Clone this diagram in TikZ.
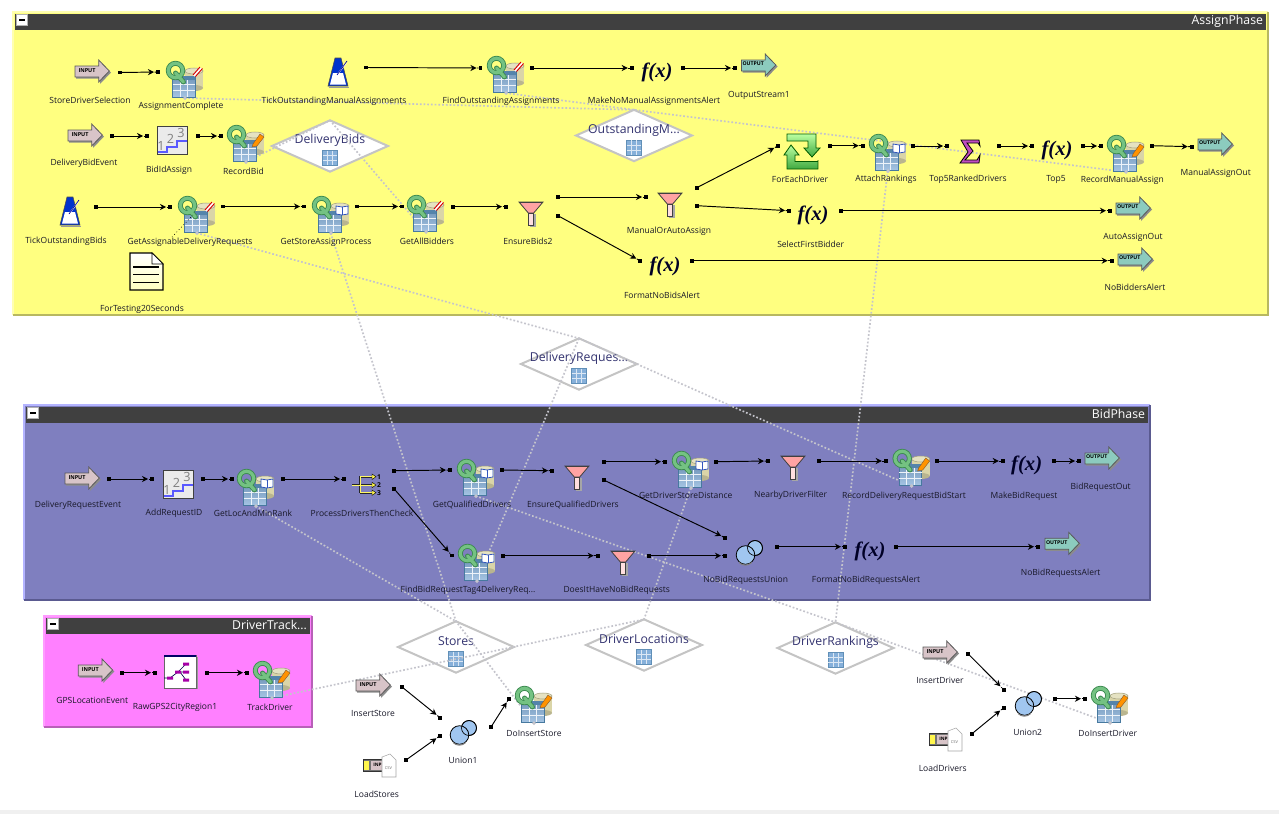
\documentclass[tikz,border=0pt]{standalone}
\usepackage{fontspec}
\setmainfont{Open Sans}
\newfontfamily\fxfont{Liberation Serif}
\usetikzlibrary{arrows.meta,shapes.geometric,calc}
\pgfdeclarelayer{grp}\pgfdeclarelayer{dia}\pgfdeclarelayer{lnk}
\pgfsetlayers{grp,dia,lnk,main}
\definecolor{yel}{HTML}{FFFF80}\definecolor{yelL}{HTML}{FFFFB0}\definecolor{yelD}{HTML}{B8B860}
\definecolor{pur}{HTML}{7F7FBF}\definecolor{purL}{HTML}{B4B4FF}\definecolor{purD}{HTML}{5A5A90}
\definecolor{mag}{HTML}{FF80FF}\definecolor{magL}{HTML}{FF9CFF}\definecolor{magD}{HTML}{B860B8}
\definecolor{bar}{HTML}{404040}\definecolor{lnkc}{HTML}{C4C4CC}\definecolor{diac}{HTML}{C4C4C4}
\definecolor{lblc}{HTML}{181828}\definecolor{qg}{HTML}{74C282}\definecolor{qd}{HTML}{3C8A50}
\definecolor{tb}{HTML}{86B0DA}\definecolor{tbd}{HTML}{47799F}\definecolor{cyl}{HTML}{DAD5A8}
\definecolor{inc}{HTML}{D8C4C8}\definecolor{outc}{HTML}{8CCBBE}\definecolor{unic}{HTML}{A0C6F0}
\newcommand{\qicon}[1]{%
  \fill[cyl] (19,11) rectangle (37,28);
  \fill[cyl!85!black] (28,28) ellipse [x radius=9,y radius=3];
  \draw[cyl!75!black,fill=cyl!70!white,line width=.4pt] (28,11) ellipse [x radius=9,y radius=3];
  \draw[tbd,top color=tb!85!black,bottom color=tb!75!white,line width=.6pt] (6.5,16) rectangle (29,37);
  \fill[tbd!80!tb] (6.5,16) rectangle (29,20);
  \draw[white!85!tb,line width=.45pt] (6.5,24.5) -- (29,24.5) (6.5,30) -- (29,30) (14,20) -- (14,37) (21.5,20) -- (21.5,37);
  #1
  \draw[qd,line width=3.7pt] (9.5,10.5) circle [radius=7.2];
  \draw[qd,line width=3.7pt,line cap=round] (9.5,13) -- (17.5,22);
  \draw[qg,line width=2.4pt] (9.5,10.5) circle [radius=7.2];
  \draw[qg,line width=2.4pt,line cap=round] (9.5,13) -- (17.5,22);
  \fill[lnkc] (19,36) -- (21,38) -- (19,40) -- (17,38) -- cycle;
}
\tikzset{
  flat/.style={inner sep=0pt,outer sep=0pt},
  lbl/.style={flat,text=lblc,font=\fontsize{6.38}{7.5}\selectfont},
  port/.style={flat,rectangle,fill=black,minimum size=2.7pt},
  lnkline/.style={lnkc,line width=1.25pt,dash pattern=on 1.3pt off 1.5pt},
  diamondshape/.style={flat,diamond,draw=diac,fill=white,line width=1.5pt,minimum width=87pt,minimum height=38.5pt},
  dtitle/.style={flat,text=black!70!blue!80!white,font=\fontsize{9.2}{11}\selectfont},
  gtitle/.style={flat,text=white,font=\fontsize{9.2}{11}\selectfont,anchor=east},
  qdel box/.style={minimum width=28pt,minimum height=28.5pt},
  qpen box/.style={minimum width=28pt,minimum height=28.5pt},
  qbook box/.style={minimum width=28pt,minimum height=28.5pt},
  inarrow box/.style={minimum width=26pt,minimum height=17pt},
  outarrow box/.style={minimum width=26pt,minimum height=17pt},
  metro box/.style={minimum width=15pt,minimum height=22pt},
  fxs box/.style={minimum width=21pt,minimum height=20pt},
  funnel box/.style={minimum width=18pt,minimum height=18pt},
  numb box/.style={minimum width=22.5pt,minimum height=21pt},
  docu box/.style={minimum width=25pt,minimum height=28pt},
  loopd box/.style={minimum width=27pt,minimum height=28pt},
  sigm box/.style={minimum width=15pt,minimum height=17pt},
  splitt box/.style={minimum width=22pt,minimum height=17pt},
  unio box/.style={minimum width=20pt,minimum height=19pt},
  csvin box/.style={minimum width=24pt,minimum height=17pt},
  rawg box/.style={minimum width=24pt,minimum height=25pt},
  pics/qdel/.style={code={\qicon{\draw[white,line width=1.6pt] (28,16) -- (35,8);\draw[red!85!black,line width=.7pt] (27,15) -- (34,7) (29.5,16.5) -- (36.5,8.5);}}},
  pics/qpen/.style={code={\qicon{\fill[orange!85!yellow] (26,20) -- (33,10) -- (37,13) -- (30,22) -- (25,23) -- cycle;\draw[brown!70!black,line width=.3pt] (26,20) -- (33,10) -- (37,13) -- (30,22) -- (25,23) -- cycle;}}},
  pics/qbook/.style={code={\qicon{\draw[tbd!70!blue,fill=white,line width=.6pt] (24,11) -- (30,12) -- (36,11) -- (36,19) -- (30,20) -- (24,19) -- cycle;\draw[tbd!70!blue,line width=.5pt] (30,12) -- (30,20);}}},
  pics/inarrow/.style={code={
    \fill[black!45] (1,7.5) -- (25,7.5) -- (25,1.5) -- (36,12.5) -- (25,24) -- (25,18.5) -- (1,18.5) -- cycle;
    \draw[black!65,fill=inc,line width=.6pt] (0,6) -- (23.7,6) -- (23.7,0) -- (34.3,11) -- (23.7,22) -- (23.7,17) -- (0,17) -- cycle;
    \node[flat,font=\fontsize{4.1}{4}\bfseries\selectfont,text=black] at (12,10.5) {INPUT};}},
  pics/outarrow/.style={code={
    \fill[black!45] (1,7.5) -- (25,7.5) -- (25,1.5) -- (36,12.5) -- (25,24) -- (25,18.5) -- (1,18.5) -- cycle;
    \draw[black!65,fill=outc,line width=.6pt] (0,6) -- (23.7,6) -- (23.7,0) -- (34.3,11) -- (23.7,22) -- (23.7,17) -- (0,17) -- cycle;
    \node[flat,font=\fontsize{3.9}{4}\bfseries\selectfont,text=black] at (11.7,10) {OUTPUT};}},
  pics/metro/.style={code={
    \draw[black!70,fill=blue!75!cyan!80!black,line width=.4pt] (7,0) -- (13,0) -- (20,28) -- (0,28) -- cycle;
    \fill[white] (5,15) -- (15,15) -- (18,26.5) -- (2,26.5) -- cycle;
    \draw[white,line width=.9pt] (9,17) -- (18,5);
    \draw[blue!60!black,line width=.5pt] (9,17) -- (19,3);
    \fill[black!40] (1,28.5) rectangle (21,30);}},
  pics/fxs/.style={code={\node[flat,font=\fxfont\fontsize{15.5}{17}\bfseries\itshape\selectfont,text=black!85!blue] at (14,12) {f(x)};}},
  pics/funnel/.style={code={
    \fill[black!35] (10.5,13) rectangle (16.5,25.5);
    \draw[black!75,fill=pink!85!red,line width=.6pt] (0,1) -- (24,1) -- (14.7,12) -- (9.3,12) -- cycle;
    \draw[black!75,fill=pink!50!white,line width=.6pt] (9.3,12) rectangle (14.7,24);
    \draw[black!75,line width=.3pt] (0,1) -- (24,1);}},
  pics/numb/.style={code={
    \draw[black!75,fill=black!8,line width=.7pt] (0,0) rectangle (30,28);
    \node[flat,text=black!50,font=\fontsize{9.5}{10}\selectfont] at (4,20) {1};
    \node[flat,text=black!50,font=\fontsize{9.5}{10}\selectfont] at (13.5,13) {2};
    \node[flat,text=black!50,font=\fontsize{9.5}{10}\selectfont] at (24,7) {3};
    \draw[blue!65!white,line width=.9pt] (0.5,26) -- (10,26) -- (10,21) -- (20,21) -- (20,15) -- (29.5,15);}},
  pics/docu/.style={code={
    \draw[black,top color=white,bottom color=yellow!25!white,line width=.8pt] (0,0) -- (22,0) -- (33,11) -- (33,37) -- (0,37) -- cycle;
    \draw[black,fill=white,line width=.5pt] (22,0) -- (22,11) -- (33,11) -- cycle;
    \draw[black,line width=1pt] (3,14) -- (29,14) (3,21.5) -- (29,21.5) (3,29.5) -- (29,29.5);}},
  pics/loopd/.style={code={
    \draw[green!35!black,top color=green!30!white!90!yellow,bottom color=green!55!black!75!white,line width=.6pt] (3,1) -- (32,1) -- (32,15) -- (36,15) -- (28,24) -- (20,15) -- (24,15) -- (24,8) -- (3,8) -- cycle;
    \draw[green!35!black,top color=green!30!white!90!yellow,bottom color=green!55!black!75!white,line width=.6pt] (34,27) -- (34,36) -- (3,36) -- (3,22) -- (0,22) -- (7,12) -- (15,22) -- (11,22) -- (11,28.5) -- (34,28.5) -- cycle;}},
  pics/sigm/.style={code={
    \draw[black,fill=violet!70!magenta!70!white,line width=.6pt] (1,0) -- (19,0) -- (20,6) -- (18,3) -- (7,3) -- (13,11) -- (5,20) -- (17,20) -- (20,15) -- (19,23) -- (0,23) -- (8,12) -- cycle;}},
  pics/splitt/.style={code={
    \draw[black!85,line width=1.6pt] (0,10) -- (9,10) (8,1.7) -- (21,1.7) (8,10) -- (21,10) (8,17.7) -- (21,17.7) (8,1) -- (8,18.4);
    \draw[yellow!60!white,line width=.6pt] (0,10) -- (21,10) (8,1.7) -- (21,1.7) (8,17.7) -- (21,17.7) (8,1.7) -- (8,17.7);
    \fill[yellow!70!white,draw=black,line width=.3pt] (20,-1) -- (24,1.7) -- (20,4.5) -- cycle (20,7.3) -- (24,10) -- (20,12.7) -- cycle (20,15) -- (24,17.7) -- (20,20.4) -- cycle;
    \node[flat,font=\fontsize{5}{5}\bfseries\selectfont,text=black] at (27,2) {1};
    \node[flat,font=\fontsize{5}{5}\bfseries\selectfont,text=black] at (27,10) {2};
    \node[flat,font=\fontsize{5}{5}\bfseries\selectfont,text=black] at (27,18) {3};}},
  pics/unio/.style={code={
    \draw[black,fill=unic,line width=.6pt] (19,8) circle [radius=7.5];
    \draw[black,fill=unic,line width=.6pt] (9.5,15) circle [radius=9.3];
    \draw[black,line width=.5pt] (19,8) circle [radius=7.5];
    \draw[black!50,line width=.8pt] (3,22.5) arc [start angle=135,end angle=45,radius=9];}},
  pics/csvin/.style={code={
    \draw[black!80,fill=black!55,line width=.5pt] (0,5) -- (26,5) -- (26,17) -- (0,17) -- cycle;
    \fill[yellow!70!white] (1,6.5) rectangle (6,15.5);
    \fill[inc] (8,6.5) rectangle (22,15.5);
    \node[flat,font=\fontsize{3.5}{4}\bfseries\selectfont,text=black] at (14.5,11) {INP};
    \draw[black!35,fill=white,line width=.4pt] (19,3) -- (27,0) -- (33,6) -- (33,23) -- (19,23) -- cycle;
    \node[flat,font=\fontsize{3}{3}\selectfont,text=black!60] at (25.5,14) {CSV};}},
  pics/rawg/.style={code={
    \fill[black!40] (1.5,1.5) rectangle (33.5,34);
    \draw[black!60,fill=white,line width=.6pt] (0,0) rectangle (32,33);
    \fill[blue!40!black] (0,0) rectangle (32,2.2);
    \draw[blue!30!black,line width=.5pt] (0,23) -- (6,23) -- (14,17) -- (22,9) (14,17) -- (22,17) (16,17) -- (22,25);
    \fill[violet!70!magenta] (3,21.5) rectangle (9,24.5) (11,15.5) rectangle (17,18.5) (19,7.5) rectangle (25,10.5) (19,15.5) rectangle (25,18.5) (19,23.5) rectangle (25,26.5);}},
}
% component: name, type, x, y (top left), label, label x, label y
\newcommand{\comp}[7]{%
  \node[flat,#2 box,anchor=north west] (#1) at (#3,#4) {};
  \pic at (#3,#4) {#2};
  \node[lbl] (#1-l) at (#6,#7) {#5};}
% ports and flow
\newcommand{\fl}[6]{%
  \node[port] (#1) at (#2,#3) {};
  \node[port] (#4) at (#5,#6) {};
  \draw[black,line width=.72pt,-{Stealth[length=4.6pt,width=4.6pt]},shorten >=1.6pt] (#1) -- (#4);
  \draw[black,line width=.72pt] ($(#4)!2.6pt!(#1)$) -- (#4);}
\newcommand{\lk}[2]{\begin{pgfonlayer}{lnk}\draw[lnkline] (#1) -- (#2);\end{pgfonlayer}}
% table store diamond: name, cx, cy, title
\newcommand{\dm}[4]{%
  \begin{pgfonlayer}{dia}
  \node[diamondshape] (#1) at (#2,#3) {};
  \node[dtitle] (#1-t) at (#2,#3-5.5) {#4};
  \node[flat,rectangle,draw=tbd!60!tb,fill=tb,minimum size=11pt,line width=.3pt] (#1-i) at (#2,#3+12) {};
  \draw[white!70!tb,line width=.35pt] ([yshift=-3.5pt]#1-i.north west) -- ([yshift=-3.5pt]#1-i.north east) ([yshift=3.5pt]#1-i.south west) -- ([yshift=3.5pt]#1-i.south east) ([xshift=-2pt]#1-i.north) -- ([xshift=-2pt]#1-i.south) ([xshift=2pt]#1-i.north) -- ([xshift=2pt]#1-i.south);
  \end{pgfonlayer}}
% group: name x1 y1 x2 y2 fill light dark title
\newcommand{\grpbox}[9]{%
  \begin{pgfonlayer}{grp}
  \node[flat,rectangle,fill=#6,anchor=north west,minimum width={(#4-#2)*0.75pt},minimum height={(#5-#3)*0.75pt}] (#1) at (#2,#3) {};
  \draw[#7,line width=1.3pt] (#1.south west) -- (#1.north west) -- (#1.north east);
  \draw[#8,line width=1.5pt] (#1.north east) -- (#1.south east) -- (#1.south west);
  \fill[bar] (#2+2,#3+1.5) rectangle (#4-2,#3+17.5);
  \node[flat,rectangle,draw=black!30,fill=white,minimum size=8pt,line width=.4pt,anchor=north west] (#1-b) at (#2+3.5,#3+2.5) {};
  \fill[black] ([xshift=-2.5pt,yshift=-.6pt]#1-b.center) rectangle ([xshift=2.5pt,yshift=.6pt]#1-b.center);
  \node[gtitle] (#1-t) at (#4-5,#3+9) {#9};
  \end{pgfonlayer}}
\begin{document}
\begin{tikzpicture}[x=0.75pt,y=-0.75pt]
\useasboundingbox (0,0) rectangle (1279,814);
\begin{pgfonlayer}{grp}
\fill[white] (0,0) rectangle (1279,814);
\fill[black!6] (0,810) rectangle (1279,814);
\end{pgfonlayer}
\grpbox{AP}{13}{12}{1268}{315}{yel}{yelL}{yelD}{AssignPhase}
\grpbox{BP}{24}{405}{1150}{600}{pur}{purL}{purD}{BidPhase}
\grpbox{DT}{44}{616}{312}{727}{mag}{magL}{magD}{DriverTrack...}
% diamonds
\dm{DBd}{330}{146}{DeliveryBids}
\dm{OM}{634}{135.5}{OutstandingM...}
\dm{DR}{579}{364}{DeliveryReques...}
\dm{ST}{456}{647}{Stores}
\dm{DL}{644}{645}{DriverLocations}
\dm{DK}{835.5}{648}{DriverRankings}
% AssignPhase
\comp{SDS}{inarrow}{75}{60}{StoreDriverSelection}{90}{100}
\comp{AC}{qdel}{166}{60}{AssignmentComplete}{181}{106.5}
\comp{TOMA}{metro}{328}{58}{TickOutstandingManualAssignments}{334}{101.5}
\comp{FOA}{qdel}{487}{55}{FindOutstandingAssignments}{501}{101.7}
\comp{MNMA}{fxs}{643}{60}{MakeNoManualAssignmentsAlert}{654}{101.7}
\comp{OS1}{outarrow}{741.5}{54}{OutputStream1}{759}{95}
\comp{DBE}{inarrow}{68}{124}{DeliveryBidEvent}{84}{163}
\comp{BIA}{numb}{157}{126}{BidIdAssign}{169}{170}
\comp{RB}{qpen}{227}{124}{RecordBid}{243.5}{171}
\comp{TOB}{metro}{60}{197}{TickOutstandingBids}{66}{241}
\comp{GADR}{qdel}{178}{195}{GetAssignableDeliveryRequests}{190}{242}
\comp{GSAP}{qbook}{312}{195}{GetStoreAssignProcess}{326}{242}
\comp{GAB}{qdel}{407}{194}{GetAllBidders}{427}{241}
\comp{FT}{docu}{130}{253}{ForTesting20Seconds}{142}{309}
\comp{EB2}{funnel}{519}{201}{EnsureBids2}{528}{241}
\comp{MOA}{funnel}{658}{192}{ManualOrAutoAssign}{669}{231.7}
\comp{FED}{loopd}{784}{133}{ForEachDriver}{800}{179.5}
\comp{AR}{qbook}{869}{133}{AttachRankings}{886}{179.7}
\comp{T5R}{sigm}{960}{140}{Top5RankedDrivers}{968}{179.7}
\comp{T5}{fxs}{1043}{138}{Top5}{1056}{179.7}
\comp{RMA}{qpen}{1107}{134}{RecordManualAssign}{1122.3}{180.7}
\comp{MAO}{outarrow}{1198}{133}{ManualAssignOut}{1215.7}{173.7}
\comp{SFB}{fxs}{799}{203}{SelectFirstBidder}{810.7}{244.3}
\comp{AAO}{outarrow}{1116}{197}{AutoAssignOut}{1133}{237.7}
\comp{FNBA}{fxs}{651}{254}{FormatNoBidsAlert}{662}{295}
\comp{NBA}{outarrow}{1118}{248}{NoBiddersAlert}{1135}{287.7}
% BidPhase
\comp{DRE}{inarrow}{65}{467}{DeliveryRequestEvent}{78}{505.7}
\comp{ARI}{numb}{163}{470}{AddRequestID}{174}{513.7}
\comp{GLMR}{qbook}{237}{468}{GetLocAndMinRank}{253}{513.7}
\comp{PDTC}{splitt}{352}{475}{ProcessDriversThenCheck}{362}{513.7}
\comp{GQD}{qbook}{457}{458}{GetQualifiedDrivers}{472}{504.7}
\comp{EQD}{funnel}{565}{465}{EnsureQualifiedDrivers}{573}{505}
\comp{GDSD}{qbook}{672}{450}{GetDriverStoreDistance}{685.7}{495.7}
\comp{NDF}{funnel}{781}{455}{NearbyDriverFilter}{790.7}{495.7}
\comp{RDRB}{qpen}{892.7}{448}{RecordDeliveryRequestBidStart}{904}{496}
\comp{MBR}{fxs}{1012.7}{453.7}{MakeBidRequest}{1024}{496}
\comp{BRO}{outarrow}{1085}{447}{BidRequestOut}{1100.7}{487.7}
\comp{FBR}{qbook}{458}{543}{FindBidRequestTag4DeliveryReq...}{468}{590}
\comp{DHNB}{funnel}{611}{550}{DoesItHaveNoBidRequests}{616.7}{590.7}
\comp{NBRU}{unio}{736}{540}{NoBidRequestsUnion}{745.7}{580.7}
\comp{FNBR}{fxs}{856}{539.7}{FormatNoBidRequestsAlert}{866}{580.7}
\comp{NBRA}{outarrow}{1045}{532.3}{NoBidRequestsAlert}{1060.7}{573.7}
% DriverTrack and bottom
\comp{GPS}{inarrow}{78.3}{659}{GPSLocationEvent}{92.3}{700}
\comp{RAW}{rawg}{164}{655}{RawGPS2CityRegion1}{175}{707.7}
\comp{TD}{qpen}{253}{660}{TrackDriver}{270}{707.7}
\comp{IS}{inarrow}{356}{674}{InsertStore}{373}{713.7}
\comp{LS}{csvin}{363}{754}{LoadStores}{376.7}{794.7}
\comp{U1}{unio}{450}{720}{Union1}{463}{760.7}
\comp{DIS}{qpen}{515}{685}{DoInsertStore}{534}{733.7}
\comp{ID}{inarrow}{923}{641}{InsertDriver}{940}{680.7}
\comp{LD}{csvin}{929}{728}{LoadDrivers}{942.7}{768.7}
\comp{U2}{unio}{1015}{691}{Union2}{1027.7}{732.7}
\comp{DID}{qpen}{1091}{685}{DoInsertDriver}{1107.7}{733.7}
% flows
\fl{SDS-o}{120}{72.5}{AC-i}{158}{72}
\fl{TOMA-o}{366}{67.5}{FOA-i}{480.5}{68}
\fl{FOA-o}{532}{68}{MNMA-i}{631.7}{68}
\fl{MNMA-o}{683}{68}{OS1-i}{735}{68}
\fl{DBE-o}{112}{136}{BIA-i}{147}{136}
\fl{BIA-o}{198}{136}{RB-i}{221}{136}
\fl{TOB-o}{96}{207}{GADR-i}{170}{207}
\fl{GADR-o}{223}{206.5}{GSAP-i}{304}{206.5}
\fl{GSAP-o}{357}{206.5}{GAB-i}{402}{206.5}
\fl{GAB-o}{453}{206.7}{EB2-i}{506}{206.7}
\fl{EB2-o1}{558}{197}{MOA-i}{646}{197}
\fl{EB2-o2}{558}{215.7}{FNBA-i}{640}{260.7}
\fl{MOA-o1}{696.7}{187.7}{FED-i}{778}{146}
\fl{MOA-o2}{697}{205.7}{SFB-i}{789}{210.7}
\fl{FED-o}{830}{145.7}{AR-i}{862.7}{145.7}
\fl{AR-o}{913}{146}{T5R-i}{947}{146}
\fl{T5R-o}{999}{146}{T5-i}{1032}{146}
\fl{T5-o}{1083}{146}{RMA-i}{1101}{146}
\fl{RMA-o}{1152}{145.7}{MAO-i}{1191.7}{146.7}
\fl{SFB-o}{841}{210.7}{AAO-i}{1110}{210.7}
\fl{FNBA-o}{692}{260.7}{NBA-i}{1111.7}{260.7}
\fl{DRE-o}{109}{479}{ARI-i}{152}{479}
\fl{ARI-o}{203}{479}{GLMR-i}{232}{479}
\fl{GLMR-o}{283}{479}{PDTC-i}{344}{479}
\fl{PDTC-o1}{394}{470.7}{GQD-i}{450}{470}
\fl{PDTC-o2}{394}{488.7}{FBR-i}{451.7}{555.3}
\fl{GQD-o}{502}{470}{EQD-i}{552}{470.7}
\fl{EQD-o1}{603.7}{461.7}{GDSD-i}{665}{461.7}
\fl{EQD-o2}{603.7}{480}{NBRU-i1}{725}{537.7}
\fl{GDSD-o}{716}{461.7}{NDF-i}{768}{461}
\fl{NDF-o}{819}{461}{RDRB-i}{885.7}{461}
\fl{RDRB-o}{936.7}{461}{MBR-i}{1002.7}{461}
\fl{MBR-o}{1054}{461}{BRO-i}{1079}{461}
\fl{FBR-o}{502.7}{555.7}{DHNB-i}{597.7}{555.7}
\fl{DHNB-o}{649}{555.7}{NBRU-i2}{725}{555.7}
\fl{NBRU-o}{776.7}{546.7}{FNBR-i}{845}{546.7}
\fl{FNBR-o}{896}{546.7}{NBRA-i}{1038}{546.7}
\fl{GPS-o}{122}{672.7}{RAW-i}{155}{672.7}
\fl{RAW-o}{207}{672.7}{TD-i}{247}{672.7}
\fl{IS-o}{402}{687}{U1-i1}{440}{717.7}
\fl{LS-o}{406}{760}{U1-i2}{440}{735.7}
\fl{U1-o}{491}{727}{DIS-i}{509}{698.7}
\fl{ID-o}{968}{653.7}{U2-i1}{1003.7}{689.7}
\fl{LD-o}{972}{733.7}{U2-i2}{1003.7}{707.7}
\fl{U2-o}{1055}{698.7}{DID-i}{1085}{698.7}
% store links
\lk{AC.south}{OM.north}
\lk{FOA.south}{OM.north}
\lk{RMA.south}{OM.north}
\lk{RB.south}{DBd.north}
\lk{GAB.south}{DBd.north}
\lk{GADR.south}{DR.north}
\lk{RDRB.south}{DR.north}
\lk{FBR.south}{DR.north}
\lk{GSAP.south}{ST.north}
\lk{GLMR.south}{ST.north}
\lk{DIS.south}{ST.north}
\lk{TD.south}{DL.north}
\lk{GDSD.south}{DL.north}
\lk{GQD.south}{DK.north}
\lk{DID.south}{DK.north}
\lk{AR.south}{DK.north}
% timer reference, fine dotted
\coordinate (FT-a) at (172,237);
\coordinate (GADR-a) at (193,215);
\draw[black,line width=.5pt,dotted] (FT-a) -- (GADR-a);
\end{tikzpicture}
\end{document}
